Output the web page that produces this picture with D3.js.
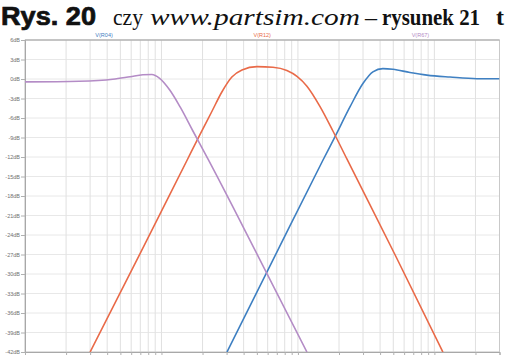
<!DOCTYPE html>
<html><head><meta charset="utf-8">
<script src="https://cdn.jsdelivr.net/npm/d3@7"></script>
<style>html,body{margin:0;padding:0;background:#fff;overflow:hidden}</style>
</head><body>
<svg id="chart" width="507" height="356"></svg>
<script>
// Gain axis ticks (dB) and their labels
const yTicks = [6, 3, 0, -3, -6, -9, -12, -15, -18, -21, -24, -27, -30, -33, -36, -39, -42];
const yTickLabels = yTicks.map(d => d + "dB");

// Trace names shown above the plot, in trace order
const traceNames = ["V(R04)", "V(R12)", "V(R67)"];
const traceColors = ["#3f80c2", "#e96a48", "#b48cc6"];

// High-pass output (frequency in Hz, gain in dB)
const hpFreq = [302, 679, 1524, 1867, 2406, 2994, 3543, 4194, 4966, 6618, 8817, 13000, 20480, 30000];
const hpDb   = [-42, -27.2, -12.5, -8.9, -4.3, -0.7, 1.1, 1.6, 1.5, 1.0, 0.6, 0.3, 0.05, 0.05];

// Band-pass output
const bpFreq = [30, 70, 154, 191, 234, 277, 328, 389, 501, 656, 830, 984, 1164, 1449, 1805, 2284, 5137, 11535];
const bpDb   = [-42, -26.8, -12.5, -8.6, -5.0, -2.0, 0.3, 1.4, 1.9, 1.8, 1.3, 0.4, -1.1, -4.2, -8.0, -12.3, -27.0, -42];

// Low-pass output
const lpFreq = [10, 25, 44, 59, 73, 85, 97, 115, 137, 170, 219, 509, 1164];
const lpDb   = [-0.45, -0.35, -0.05, 0.35, 0.65, 0.7, 0.1, -1.7, -4.3, -8.0, -12.3, -27.2, -42];

const svg = d3.select("#chart");
const plot = {left: 25, right: 499.5, top: 40, bottom: 352};

const x = d3.scaleLog().domain([10, 30000]).range([plot.left, plot.right]);
const y = d3.scaleLinear().domain([6, -42]).range([plot.top, plot.bottom]);

// Heading line above the plot
const head = svg.append("g");
head.append("text").attr("x", 1).attr("y", 25)
  .attr("font-family", "Liberation Sans, Arial, sans-serif").attr("font-weight", "bold")
  .attr("font-size", 25).attr("fill", "#111").attr("stroke", "#111").attr("stroke-width", 0.7)
  .attr("textLength", 95).attr("lengthAdjust", "spacingAndGlyphs").text("Rys. 20");
head.append("text").attr("x", 113).attr("y", 25)
  .attr("font-family", "Liberation Serif, Times New Roman, serif")
  .attr("font-size", 24).attr("fill", "#111")
  .attr("textLength", 30).attr("lengthAdjust", "spacingAndGlyphs").text("czy");
head.append("text").attr("x", 150).attr("y", 25)
  .attr("font-family", "Liberation Serif, Times New Roman, serif").attr("font-style", "italic")
  .attr("font-size", 24).attr("fill", "#111")
  .attr("textLength", 210).attr("lengthAdjust", "spacingAndGlyphs").text("www.partsim.com");
head.append("text").attr("x", 365).attr("y", 25)
  .attr("font-family", "Liberation Serif, Times New Roman, serif")
  .attr("font-size", 24).attr("fill", "#111").text("–");
head.append("text").attr("x", 382).attr("y", 25)
  .attr("font-family", "Liberation Serif, Times New Roman, serif").attr("font-weight", "bold")
  .attr("font-size", 24).attr("fill", "#111")
  .attr("textLength", 98).attr("lengthAdjust", "spacingAndGlyphs").text("rysunek 21");
head.append("text").attr("x", 496).attr("y", 25)
  .attr("font-family", "Liberation Serif, Times New Roman, serif").attr("font-weight", "bold")
  .attr("font-size", 24).attr("fill", "#111").text("t");

// Grid
const grid = svg.append("g");
grid.selectAll("line.v").data(x.ticks()).join("line")
  .attr("class", "v")
  .attr("x1", d => x(d)).attr("x2", d => x(d))
  .attr("y1", plot.top).attr("y2", plot.bottom)
  .attr("stroke", "#d8d8d8").attr("stroke-width", 0.8);
grid.selectAll("line.h").data(yTicks).join("line")
  .attr("class", "h")
  .attr("x1", plot.left).attr("x2", plot.right)
  .attr("y1", d => y(d)).attr("y2", d => y(d))
  .attr("stroke", "#e2e2e2").attr("stroke-width", 0.8);

// Frame
svg.append("rect")
  .attr("x", plot.left).attr("y", plot.top)
  .attr("width", plot.right - plot.left).attr("height", plot.bottom - plot.top)
  .attr("fill", "none").attr("stroke", "#c4c4c4").attr("stroke-width", 0.8);
svg.append("line").attr("x1", plot.left).attr("x2", plot.right)
  .attr("y1", plot.top).attr("y2", plot.top).attr("stroke", "#a8a8a8").attr("stroke-width", 1);

// Left axis
const yAxis = d3.axisLeft(y).tickValues(yTicks).tickSize(4).tickPadding(1)
  .tickFormat((d, i) => yTickLabels[i]);
const ya = svg.append("g").attr("transform", `translate(${plot.left},0)`).call(yAxis);
ya.select(".domain").attr("stroke", "#a8a8a8");
ya.selectAll(".tick line").attr("stroke", "#b0b0b0");
ya.selectAll(".tick text").attr("font-family", "Liberation Sans, Arial, sans-serif")
  .attr("font-size", 5.5).attr("fill", "#707070");

// Bottom axis ticks
const xAxis = d3.axisBottom(x).tickValues(x.ticks()).tickSize(3).tickFormat("");
const xa = svg.append("g").attr("transform", `translate(0,${plot.bottom})`).call(xAxis);
xa.select(".domain").attr("stroke", "#a8a8a8");
xa.selectAll(".tick line").attr("stroke", "#b0b0b0");

// Trace names
const slot = (plot.right - plot.left) / traceNames.length;
svg.selectAll("text.name").data(traceNames).join("text")
  .attr("class", "name")
  .attr("x", (d, i) => plot.left + slot * (i + 0.5))
  .attr("y", 37).attr("text-anchor", "middle")
  .attr("font-family", "Liberation Sans, Arial, sans-serif").attr("font-size", 5.5)
  .attr("fill", (d, i) => traceColors[i]).text(d => d);

// Traces
svg.append("clipPath").attr("id", "plotclip").append("rect")
  .attr("x", plot.left).attr("y", plot.top)
  .attr("width", plot.right - plot.left).attr("height", plot.bottom - plot.top);

const traces = [
  {f: hpFreq, g: hpDb, c: traceColors[0]},
  {f: bpFreq, g: bpDb, c: traceColors[1]},
  {f: lpFreq, g: lpDb, c: traceColors[2]}
];
const line = d3.line().x(d => x(d[0])).y(d => y(d[1])).curve(d3.curveMonotoneX);
svg.append("g").attr("clip-path", "url(#plotclip)")
  .selectAll("path").data(traces).join("path")
  .attr("d", t => line(t.f.map((v, i) => [v, t.g[i]])))
  .attr("fill", "none").attr("stroke", t => t.c).attr("stroke-width", 1.6);
</script>
</body></html>
